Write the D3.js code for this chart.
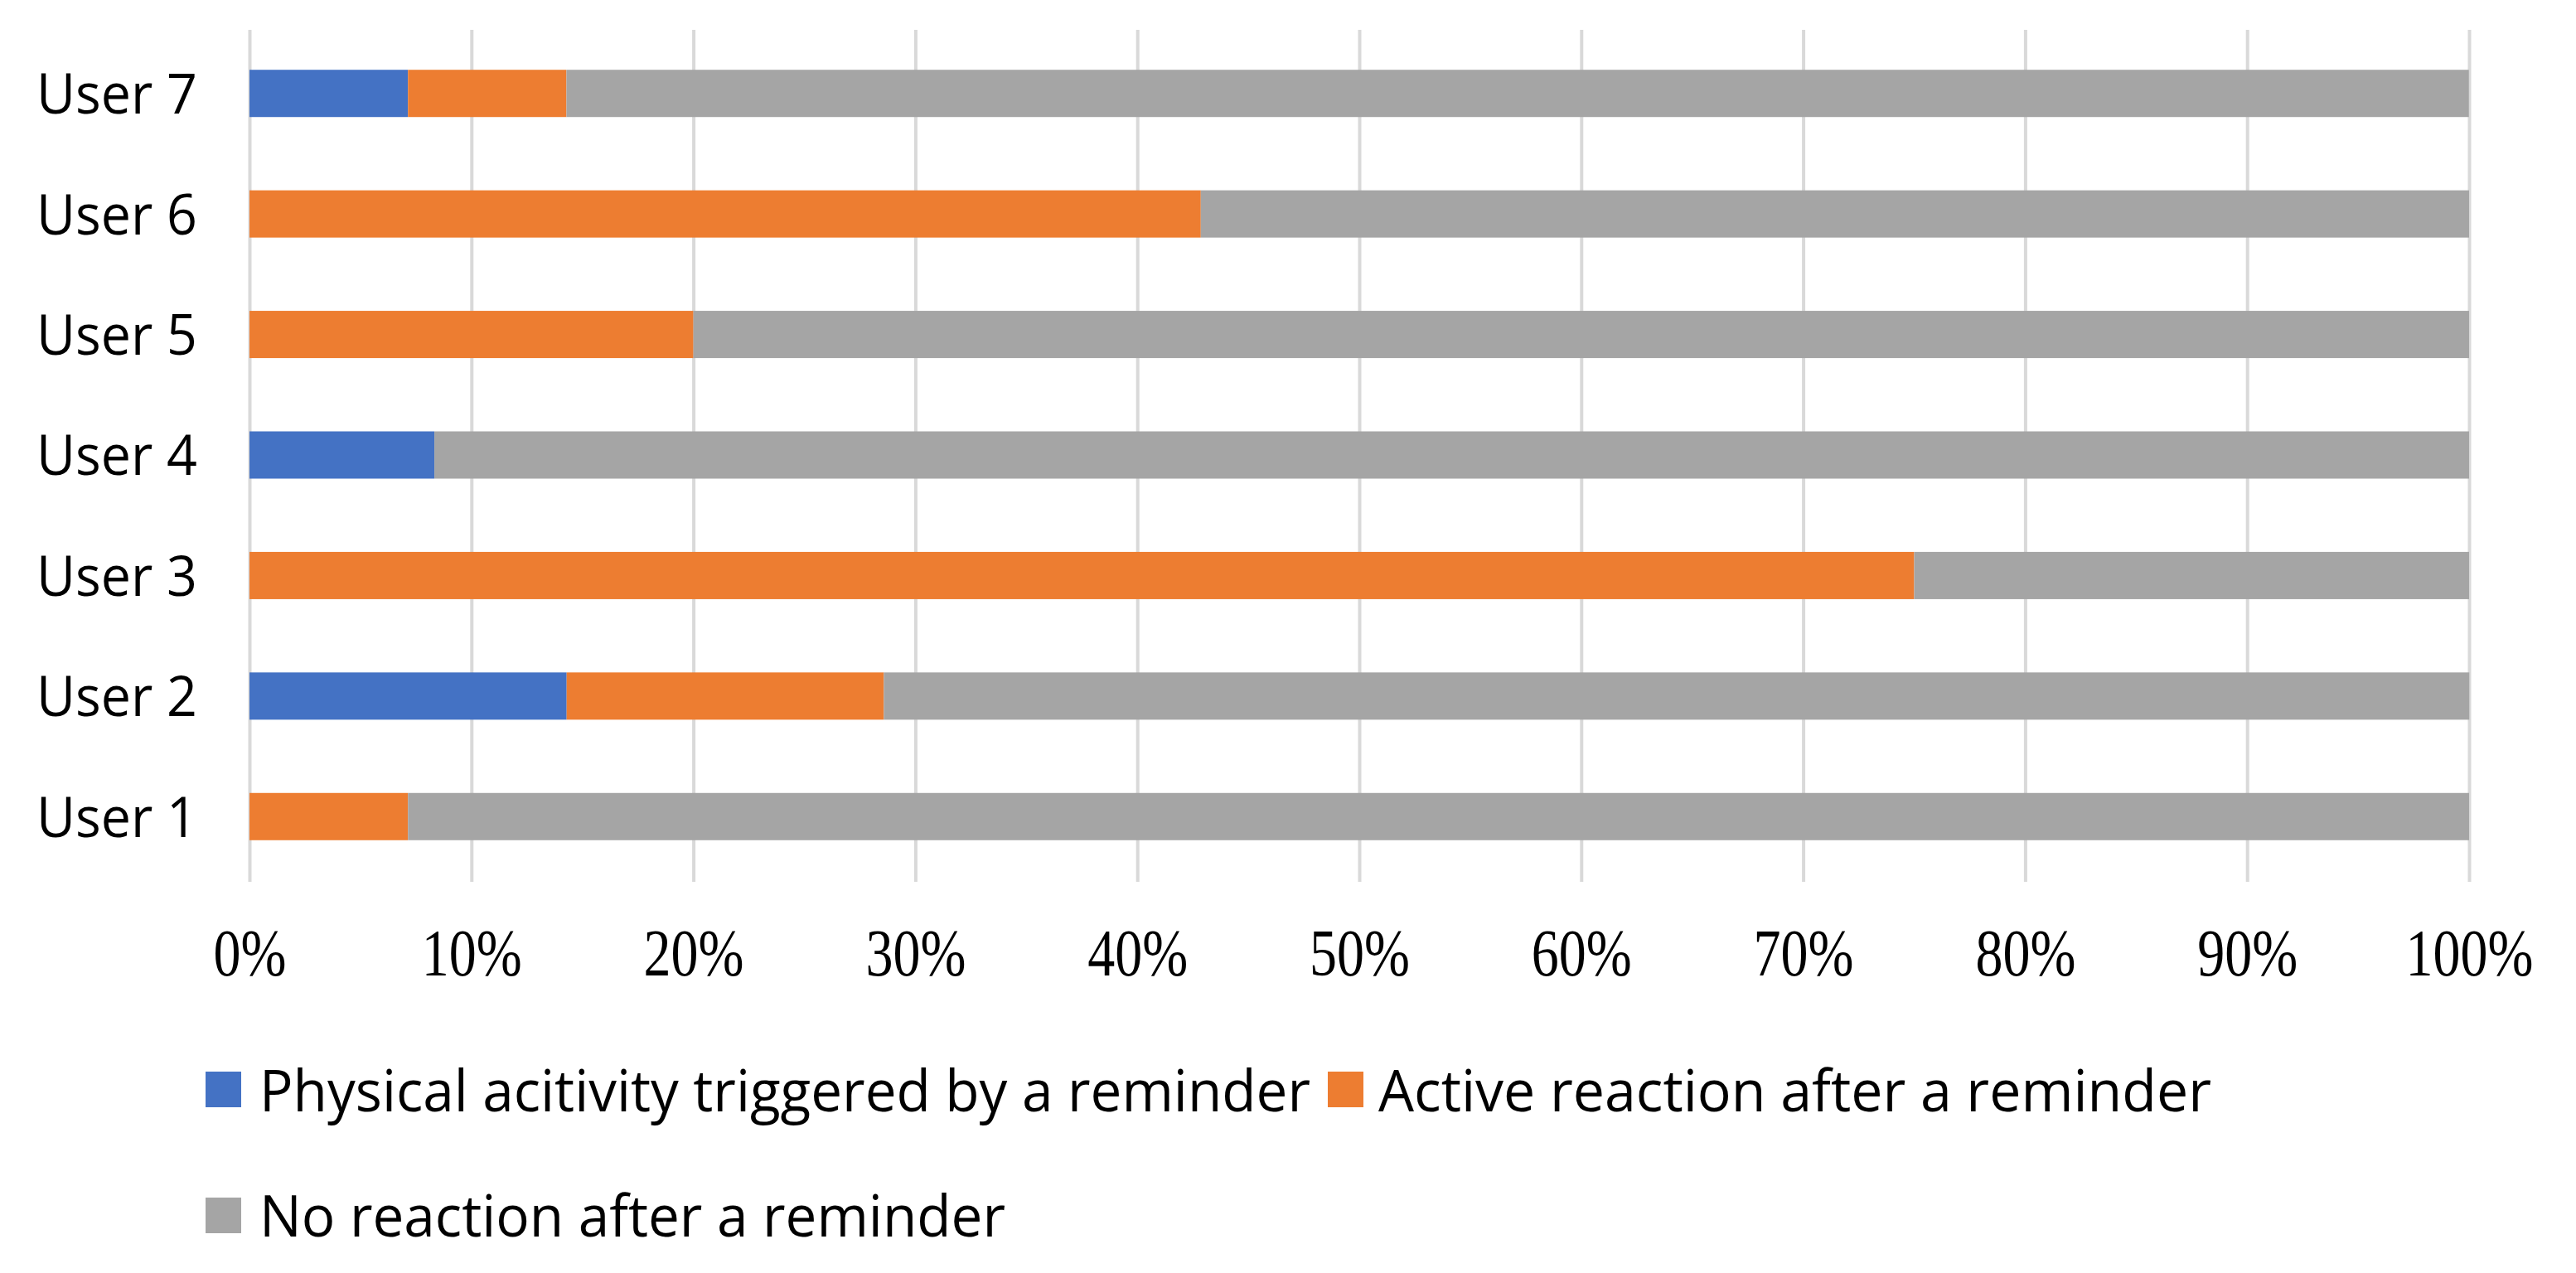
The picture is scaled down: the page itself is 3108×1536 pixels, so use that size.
<!DOCTYPE html>
<html>
<head>
<meta charset="utf-8">
<script src="https://cdn.jsdelivr.net/npm/d3@7"></script>
<style>
  html, body { margin: 0; padding: 0; background: #ffffff; }
  svg { display: block; }
</style>
</head>
<body>
<svg id="chart" width="3108" height="1536"></svg>
<script>
// ---- Data ----
const users = ["User 1", "User 2", "User 3", "User 4", "User 5", "User 6", "User 7"];
const physical = [0, 0.1429, 0, 0.0833, 0, 0, 0.0714];
const active   = [0.0714, 0.1429, 0.75, 0, 0.20, 0.4286, 0.0714];
const noReact  = [0.9286, 0.7143, 0.25, 0.9167, 0.80, 0.5714, 0.8571];
const seriesNames = [
  "Physical acitivity triggered by a reminder",
  "Active reaction after a reminder",
  "No reaction after a reminder"
];
const seriesKeys = ["physical", "active", "none"];
const seriesColors = ["#4472C4", "#ED7D31", "#A5A5A5"];
const xTicks = [0, 0.1, 0.2, 0.3, 0.4, 0.5, 0.6, 0.7, 0.8, 0.9, 1.0];

const table = users.map((u, i) => ({ user: u, physical: physical[i], active: active[i], none: noReact[i] }));

// ---- Layout ----
const svg = d3.select("#chart");
const plotLeft = 301, plotRight = 2979, plotTop = 40, plotBottom = 1058;
const gridTop = 36, gridBottom = 1064;

const x = d3.scaleLinear().domain([0, 1]).range([plotLeft, plotRight]);
const y = d3.scaleBand().domain(users.slice().reverse()).range([plotTop, plotBottom])
  .paddingInner(0.608).paddingOuter(0.304);
const color = d3.scaleOrdinal().domain(seriesKeys).range(seriesColors);

// Gridlines
svg.append("g")
  .attr("transform", `translate(0,${gridBottom})`)
  .call(d3.axisBottom(x).tickValues(xTicks).tickSize(-(gridBottom - gridTop)).tickFormat(""))
  .call(g => g.select(".domain").remove())
  .call(g => g.selectAll(".tick line").attr("stroke", "#D9D9D9").attr("stroke-width", 4));

// Bars
const stacked = d3.stack().keys(seriesKeys)(table);
svg.append("g").selectAll("g").data(stacked).join("g")
  .attr("fill", d => color(d.key))
  .selectAll("rect").data(d => d).join("rect")
  .attr("x", d => x(d[0]))
  .attr("y", d => y(d.data.user))
  .attr("width", d => Math.max(0, x(d[1]) - x(d[0])))
  .attr("height", y.bandwidth());

// X tick labels (serif, slightly tall)
const sy = 1.22;
svg.append("g")
  .call(d3.axisBottom(x).tickValues(xTicks).tickSize(0).tickFormat(d3.format(".0%")))
  .call(g => g.select(".domain").remove())
  .call(g => g.selectAll(".tick text")
    .attr("font-family", "'Liberation Serif', 'Times New Roman', serif")
    .attr("font-size", 66)
    .attr("fill", "#000")
    .attr("dy", null)
    .attr("y", 1177 / sy)
    .attr("transform", `scale(1,${sy})`));

// Y labels
const labelFont = "'Open Sans', 'Noto Sans', sans-serif";
svg.append("g")
  .attr("transform", `translate(${238},0)`)
  .call(d3.axisLeft(y).tickSize(0).tickPadding(0))
  .call(g => g.select(".domain").remove())
  .call(g => g.selectAll(".tick text")
    .attr("font-family", labelFont)
    .attr("font-size", 68)
    .attr("fill", "#000")
    .attr("dy", "0.36em")
    .attr("textLength", 194)
    .attr("lengthAdjust", "spacingAndGlyphs"));

// Legend
const legendItems = [
  { i: 0, mx: 248, my: 1293, tx: 313, base: 1341, len: 1268 },
  { i: 1, mx: 1602, my: 1293, tx: 1663, base: 1341, len: 1005 },
  { i: 2, mx: 248, my: 1445, tx: 313, base: 1492, len: 900 }
];
const leg = svg.append("g");
leg.selectAll("rect").data(legendItems).join("rect")
  .attr("x", d => d.mx).attr("y", d => d.my)
  .attr("width", 43).attr("height", 43)
  .attr("fill", d => seriesColors[d.i]);
leg.selectAll("text").data(legendItems).join("text")
  .attr("x", d => d.tx).attr("y", d => d.base)
  .attr("font-family", labelFont)
  .attr("font-size", 70)
  .attr("fill", "#000")
  .attr("textLength", d => d.len)
  .attr("lengthAdjust", "spacingAndGlyphs")
  .text(d => seriesNames[d.i]);
</script>
</body>
</html>
